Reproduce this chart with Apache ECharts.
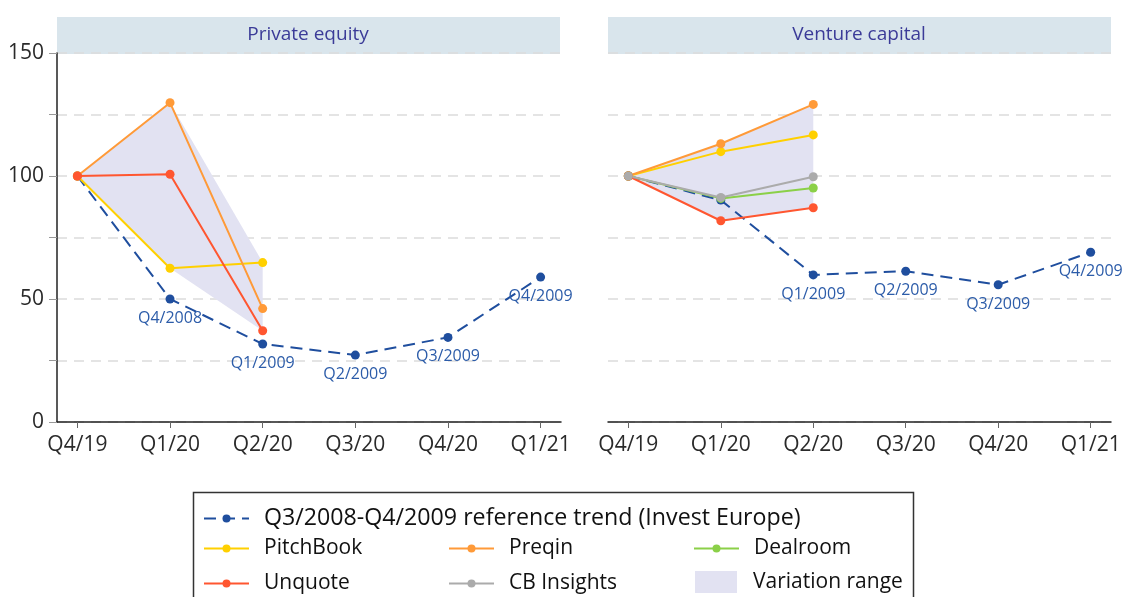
<!DOCTYPE html>
<html>
<head>
<meta charset="utf-8">
<script src="https://cdn.jsdelivr.net/npm/echarts@6/dist/echarts.min.js"></script>
<style>
  html, body { margin: 0; padding: 0; background: #fff; }
  #chart { width: 1124px; height: 597px; }
</style>
</head>
<body>
<div id="chart"></div>
<script>
  // categories
  var quarters = ['Q4/19', 'Q1/20', 'Q2/20', 'Q3/20', 'Q4/20', 'Q1/21']
  var trendLabels = ['', 'Q4/2008', 'Q1/2009', 'Q2/2009', 'Q3/2009', 'Q4/2009']
  var yTicks = [0, 50, 100, 150]

  // private equity
  var peTrend = [100, 50, 31.7, 27.2, 34.4, 58.9]
  var pePitchBook = [100, 62.5, 64.8]
  var pePreqin = [100, 129.8, 46.1]
  var peUnquote = [100, 100.7, 37.1]
  var peRangeHigh = [100, 129.8, 64.8]
  var peRangeLow = [100, 62.5, 37.1]

  // venture capital
  var vcTrend = [100, 90.2, 59.8, 61.3, 55.8, 69.0]
  var vcPitchBook = [100, 109.9, 116.7]
  var vcPreqin = [100, 113.1, 129.1]
  var vcDealroom = [100, 90.9, 95.1]
  var vcUnquote = [100, 81.8, 87.1]
  var vcCBInsights = [100, 91.3, 99.7]
  var vcRangeHigh = [100, 113.1, 129.1]
  var vcRangeLow = [100, 81.8, 87.1]

  var TREND_NAME = 'Q3/2008-Q4/2009 reference trend (Invest Europe)'
  var FONT = '"Open Sans", sans-serif'
  var colors = {
    trend: '#1f4e9e',
    trendLabel: '#2c5ca9',
    pitchbook: '#ffd000',
    preqin: '#ff9a38',
    dealroom: '#8bd048',
    unquote: '#ff5630',
    cb: '#ababab',
    range: '#e2e2f2'
  }

  var chart = echarts.init(document.getElementById('chart'))

  function pts(arr) {
    return arr.map(function (v, i) { return [i, v] })
  }

  function lineSeries(name, data, color, idx, z) {
    return {
      name: name,
      type: 'line',
      xAxisIndex: idx,
      yAxisIndex: idx,
      data: pts(data),
      symbol: 'circle',
      symbolSize: 9,
      z: z,
      itemStyle: { color: color },
      lineStyle: { color: color, width: 2 }
    }
  }

  function trendSeries(data, idx, labelShow) {
    return {
      name: TREND_NAME,
      type: 'line',
      xAxisIndex: idx,
      yAxisIndex: idx,
      data: pts(data),
      symbol: 'circle',
      symbolSize: 9,
      z: 3,
      itemStyle: { color: colors.trend },
      lineStyle: { color: colors.trend, width: 2, type: [12, 7] },
      label: {
        show: true,
        position: 'bottom',
        distance: 7,
        color: colors.trendLabel,
        fontFamily: FONT,
        fontSize: 16,
        formatter: function (p) {
          return labelShow[p.dataIndex] ? trendLabels[p.dataIndex] : ''
        }
      }
    }
  }

  function rangeSeries(high, low, idx) {
    return {
      name: 'Variation range',
      type: 'custom',
      xAxisIndex: idx,
      yAxisIndex: idx,
      z: 1,
      itemStyle: { color: colors.range },
      data: [[0, high[0]]],
      renderItem: function (params, api) {
        var top = high.map(function (v, i) { return api.coord([i, v]) })
        var bot = low.map(function (v, i) { return api.coord([i, v]) }).reverse()
        return {
          type: 'polygon',
          shape: { points: top.concat(bot) },
          style: { fill: colors.range }
        }
      }
    }
  }

  function xAxis(idx) {
    return {
      type: 'value',
      gridIndex: idx,
      min: -0.22,
      max: 5.22,
      splitLine: { show: false },
      axisLine: { show: true, onZero: false, lineStyle: { color: '#222', width: 1.5 } },
      axisTick: { show: true, customValues: [0, 1, 2, 3, 4, 5], length: 6, lineStyle: { color: '#666' } },
      axisLabel: {
        customValues: [0, 1, 2, 3, 4, 5],
        margin: 13,
        color: '#2a2a2a',
        fontFamily: FONT,
        fontSize: 21,
        formatter: function (v) { return quarters[Math.round(v)] }
      }
    }
  }

  function yAxis(idx, showLabels) {
    return {
      type: 'value',
      gridIndex: idx,
      min: 0,
      max: 150,
      interval: 25,
      axisLine: { show: showLabels, onZero: false, lineStyle: { color: '#222', width: 1.5 } },
      axisTick: { show: showLabels, length: 8, lineStyle: { color: '#999' } },
      axisLabel: {
        show: showLabels,
        margin: 13,
        color: '#2a2a2a',
        fontFamily: FONT,
        fontSize: 21,
        formatter: function (v) { return yTicks.indexOf(v) >= 0 ? v : '' }
      },
      splitLine: { show: true, lineStyle: { color: '#dcdcdc', width: 1.5, type: [10, 7] } }
    }
  }

  var legendText = { fontSize: 21, color: '#111', fontFamily: FONT, lineHeight: 20, padding: [0, 0, 0, 10] }

  var option = {
    animation: false,
    grid: [
      { left: 57, right: 563, top: 53, bottom: 175 },
      { left: 608, right: 13, top: 53, bottom: 175 }
    ],
    xAxis: [xAxis(0), xAxis(1)],
    yAxis: [yAxis(0, true), yAxis(1, false)],
    legend: [
      {
        left: 203, top: 507, padding: 0, itemWidth: 45, itemHeight: 10,
        textStyle: { fontSize: 23.2, color: '#111', fontFamily: FONT, lineHeight: 20, padding: [0, 0, 0, 10] },
        data: [TREND_NAME]
      },
      {
        left: 203, top: 538, padding: 0, orient: 'vertical', itemGap: 14, itemWidth: 45, itemHeight: 10,
        textStyle: legendText, data: ['PitchBook', 'Unquote']
      },
      {
        left: 448, top: 538, padding: 0, orient: 'vertical', itemGap: 14, itemWidth: 45, itemHeight: 10,
        textStyle: legendText, data: ['Preqin', 'CB Insights']
      },
      {
        left: 693, top: 538, padding: 0, itemWidth: 45, itemHeight: 10,
        textStyle: legendText, data: ['Dealroom']
      },
      {
        left: 695, top: 571, padding: 0, itemWidth: 42, itemHeight: 22,
        textStyle: { fontSize: 21, color: '#111', fontFamily: FONT, lineHeight: 20, padding: [0, 0, 0, 11] },
        data: [{ name: 'Variation range', icon: 'rect' }]
      }
    ],
    graphic: [
      {
        type: 'group', z: 100,
        children: [
          { type: 'rect', shape: { x: 57, y: 17, width: 503, height: 37 }, style: { fill: '#d9e5ec' } },
          { type: 'text', x: 308, y: 35, style: { text: 'Private equity', fill: '#3b3b98', font: '19px ' + FONT, textAlign: 'center', textVerticalAlign: 'middle' } },
          { type: 'rect', shape: { x: 608, y: 17, width: 503, height: 37 }, style: { fill: '#d9e5ec' } },
          { type: 'text', x: 859, y: 35, style: { text: 'Venture capital', fill: '#3b3b98', font: '19px ' + FONT, textAlign: 'center', textVerticalAlign: 'middle' } }
        ]
      },
      {
        type: 'rect', z: 100,
        shape: { x: 193.5, y: 492.5, width: 720, height: 120 },
        style: { fill: 'none', stroke: '#333', lineWidth: 1.5 }
      }
    ],
    series: [
      rangeSeries(peRangeHigh, peRangeLow, 0),
      trendSeries(peTrend, 0, [false, true, true, true, true, true]),
      lineSeries('PitchBook', pePitchBook, colors.pitchbook, 0, 4),
      lineSeries('Preqin', pePreqin, colors.preqin, 0, 4),
      lineSeries('Unquote', peUnquote, colors.unquote, 0, 5),

      rangeSeries(vcRangeHigh, vcRangeLow, 1),
      trendSeries(vcTrend, 1, [false, false, true, true, true, true]),
      lineSeries('PitchBook', vcPitchBook, colors.pitchbook, 1, 4),
      lineSeries('Preqin', vcPreqin, colors.preqin, 1, 4),
      lineSeries('Dealroom', vcDealroom, colors.dealroom, 1, 4),
      lineSeries('Unquote', vcUnquote, colors.unquote, 1, 5),
      lineSeries('CB Insights', vcCBInsights, colors.cb, 1, 5)
    ]
  }

  chart.setOption(option)
</script>
</body>
</html>
